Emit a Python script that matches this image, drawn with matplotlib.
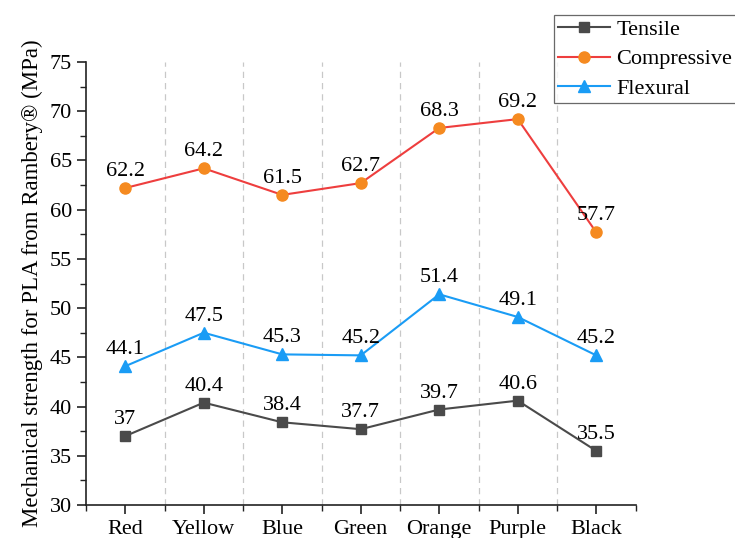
import numpy as np
import matplotlib.pyplot as plt
from matplotlib.ticker import MultipleLocator, FixedLocator

plt.rcParams['font.family'] = ['Liberation Serif', 'DejaVu Serif']

# data
colors_cat = ['Red', 'Yellow', 'Blue', 'Green', 'Orange', 'Purple', 'Black']
tensile = [37, 40.4, 38.4, 37.7, 39.7, 40.6, 35.5]
compressive = [62.2, 64.2, 61.5, 62.7, 68.3, 69.2, 57.7]
flexural = [44.1, 47.5, 45.3, 45.2, 51.4, 49.1, 45.2]

x = np.arange(1, len(colors_cat) + 1)

fig = plt.figure(figsize=(7.35, 5.38), dpi=100)
ax = fig.add_axes([86 / 735, 1 - 505 / 538, (635.5 - 86) / 735, (505 - 62) / 538])

# vertical dashed separators between categories
for xv in x[:-1] + 0.5:
    ax.axvline(xv, color='#c8c8c8', ls=(0, (5, 4)), lw=0.9, zorder=0)

ax.plot(x, tensile, color='#4a4a4a', lw=1.5, marker='s', ms=7,
        mfc='#4a4a4a', mec='#4a4a4a', label='Tensile')
ax.plot(x, compressive, color='#ee3e3e', lw=1.5, marker='o', ms=8,
        mfc='#f58a20', mec='#f58a20', label='Compressive')
ax.plot(x, flexural, color='#1a9cf5', lw=1.5, marker='^', ms=8.5,
        mfc='#1a9cf5', mec='#1a9cf5', label='Flexural')

for series in (tensile, compressive, flexural):
    for xi, v in zip(x, series):
        ax.annotate(f'{v:g}', (xi, v), xytext=(0, 5), textcoords='offset points',
                    ha='center', va='bottom', fontsize=16)

ax.set_xlim(0.5, 7.5)
ax.set_ylim(30, 75)
ax.set_xticks(x)
ax.set_xticklabels(colors_cat)
ax.xaxis.set_minor_locator(FixedLocator(np.arange(0.5, 7.6, 1.0)))
ax.yaxis.set_major_locator(MultipleLocator(5))
ax.yaxis.set_minor_locator(MultipleLocator(2.5))

ax.tick_params(axis='both', which='major', direction='out', length=6.5, width=1.2,
               labelsize=16, color='#222222')
ax.tick_params(axis='both', which='minor', direction='out', length=4, width=1.0,
               color='#222222')
ax.tick_params(axis='x', pad=4)

for s in ['top', 'right']:
    ax.spines[s].set_visible(False)
for s in ['left', 'bottom']:
    ax.spines[s].set_linewidth(1.2)
    ax.spines[s].set_color('#222222')

ax.set_ylabel('Mechanical strength for PLA from Rambery\u00ae (MPa)', fontsize=16.5, labelpad=5)

leg = fig.legend(loc='upper left', bbox_to_anchor=(554 / 735, 1 - 15 / 538),
                 fontsize=16, frameon=True, fancybox=False, edgecolor='#444444',
                 handlelength=2.3, borderpad=0.2, labelspacing=0.4,
                 handletextpad=0.3, borderaxespad=0)
leg.get_frame().set_linewidth(0.9)

fig.savefig('out.png', dpi=100)
